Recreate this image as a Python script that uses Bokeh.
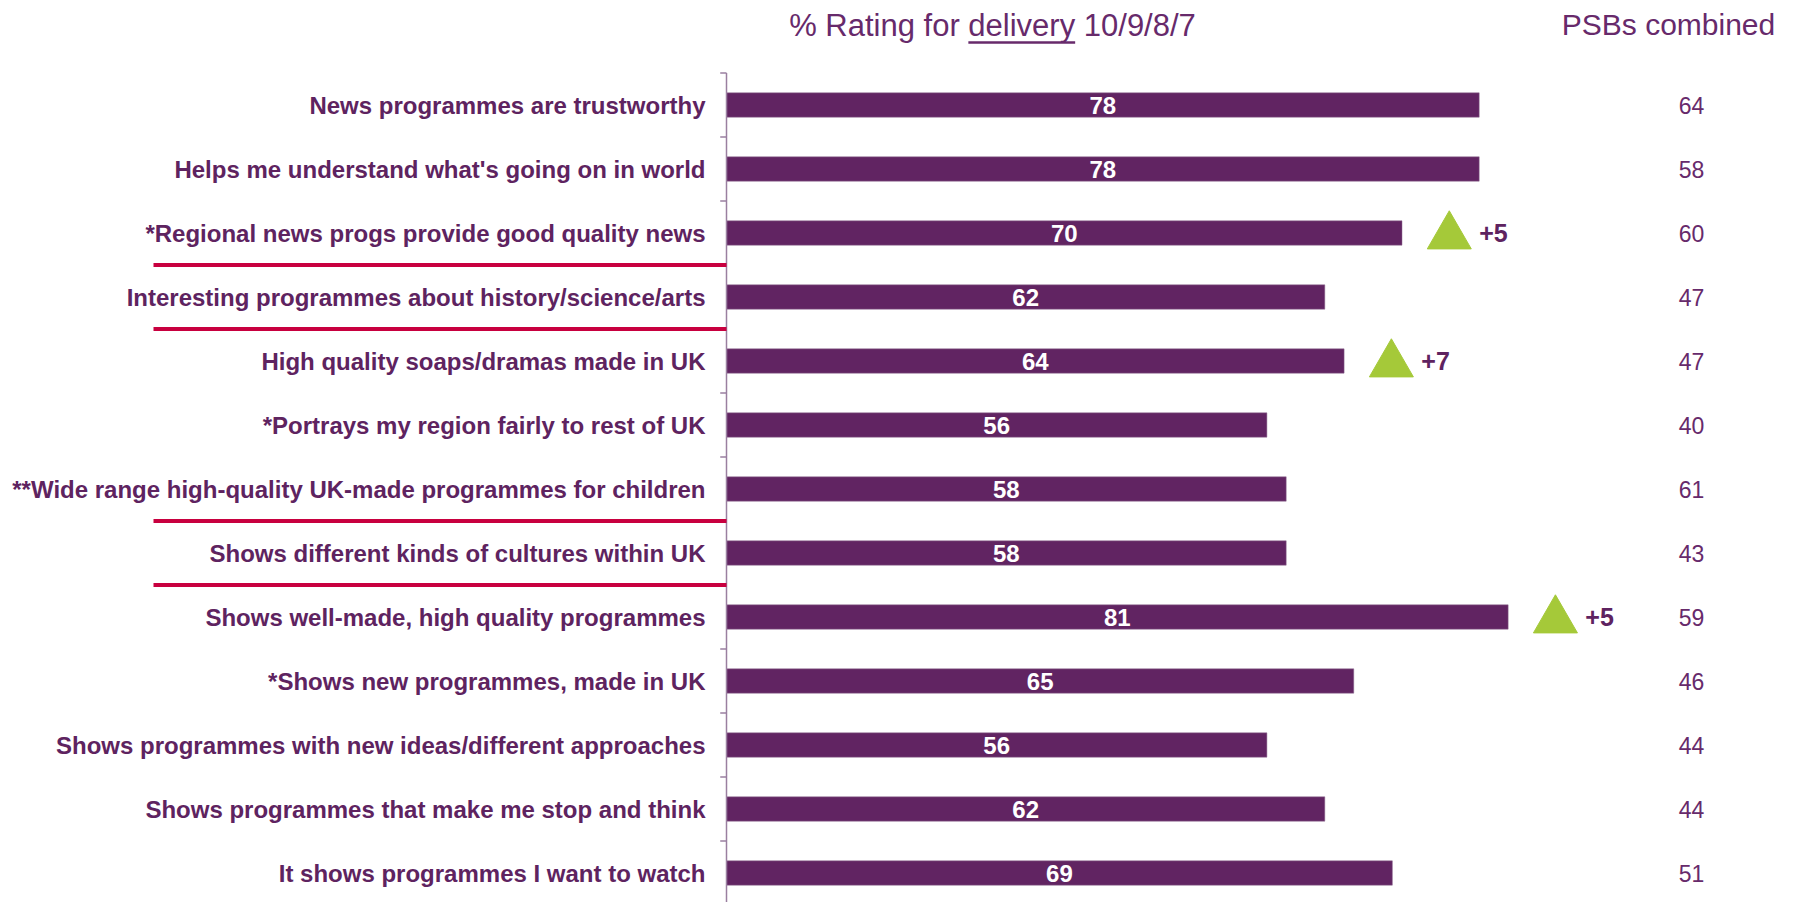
from bokeh.plotting import figure
from bokeh.models import Range1d, ColumnDataSource
from bokeh.core.properties import value
from bokeh.embed import file_html
from bokeh.resources import INLINE

# ---------------- data ----------------
categories = [
    "News programmes are trustworthy",
    "Helps me understand what's going on in world",
    "*Regional news progs provide good quality news",
    "Interesting programmes about history/science/arts",
    "High quality soaps/dramas made in UK",
    "*Portrays my region fairly to rest of UK",
    "**Wide range high-quality UK-made programmes for children",
    "Shows different kinds of cultures within UK",
    "Shows well-made, high quality programmes",
    "*Shows new programmes, made in UK",
    "Shows programmes with new ideas/different approaches",
    "Shows programmes that make me stop and think",
    "It shows programmes I want to watch",
]
delivery = [78, 78, 70, 62, 64, 56, 58, 58, 81, 65, 56, 62, 69]
psb_combined = [64, 58, 60, 47, 47, 40, 61, 43, 59, 46, 44, 44, 51]
change_rows = [2, 4, 8]
change_values = [5, 7, 5]
separators_after = [2, 3, 6, 7]
title_parts = ["% Rating for ", "delivery", " 10/9/8/7"]
right_header = "PSBs combined"

# ---------------- styling / geometry ----------------
W, H = 1806, 902
X0, SX = 726.0, 9.65      # pixel of value 0, pixels per unit
Y0, SY = 104.5, 64.0      # pixel of first row, pixels per row
PURPLE = "#612462"
TEXTP = "#5E2360"
TITLEP = "#672A6B"
GREEN = "#A5C939"
RED = "#C8003F"
AXIS = "#9A7FA0"
FONT = value("Liberation Sans")

def dx(px):
    return (px - X0) / SX

def dy(py):
    return (py - Y0) / SY

n = len(categories)
rows = list(range(n))

p = figure(width=W, height=H, output_backend="svg", toolbar_location=None,
           x_range=Range1d(dx(0), dx(W)), y_range=Range1d(dy(H), dy(0)),
           x_axis_location=None, y_axis_location=None,
           min_border=0, min_border_left=0, min_border_right=0,
           min_border_top=0, min_border_bottom=0)
p.outline_line_color = None
p.grid.visible = False
p.background_fill_color = "white"
p.border_fill_color = "white"

src = ColumnDataSource(dict(
    y=rows, cat=categories, val=delivery, half=[v / 2 for v in delivery],
    lab=[str(v) for v in delivery], psb=[str(v) for v in psb_combined],
    psbx=[100] * n, labx=[dx(705)] * n,
))

# bars
p.hbar(y="y", left=0, right="val", height=0.38, source=src,
       fill_color=PURPLE, line_color="#8C6A90", line_width=0.5)

# bar value labels
p.text(x="half", y="y", text="lab", source=src, text_color="white",
       text_font=FONT, text_font_style="bold", text_font_size="24px",
       text_align="center", text_baseline="middle")

# category labels
p.text(x="labx", y="y", text="cat", source=src, text_color=TEXTP,
       text_font=FONT, text_font_style="bold", text_font_size="24px",
       text_align="right", text_baseline="middle")

# PSBs combined values
p.text(x="psbx", y="y", text="psb", source=src, text_color=TITLEP,
       text_font=FONT, text_font_size="23px",
       text_align="center", text_baseline="middle")

# axis line and ticks
bounds = [i - 0.5 for i in range(n + 1)]
p.segment(x0=[0], y0=[-0.5], x1=[0], y1=[n + 0.5], line_color=AXIS, line_width=1.5)
tick_b = [b for b in bounds if (b - 0.5) not in separators_after]
p.segment(x0=[-0.65] * len(tick_b), y0=tick_b, x1=[0] * len(tick_b), y1=tick_b,
          line_color=AXIS, line_width=1.5)

# red separators
sep_y = [s + 0.5 for s in separators_after]
p.segment(x0=[dx(153)] * len(sep_y), y0=sep_y, x1=[0] * len(sep_y), y1=sep_y,
          line_color=RED, line_width=4)

# significant change markers
tri_x = [delivery[r] + 4.9 for r in change_rows]
tri_y = [r + 0.05 for r in change_rows]
p.scatter(x=tri_x, y=tri_y, marker="triangle", size=44,
          fill_color=GREEN, line_color=GREEN)
p.text(x=[delivery[r] + 8.0 for r in change_rows], y=change_rows,
       text=["+%d" % v for v in change_values], text_color=TEXTP,
       text_font=FONT, text_font_style="bold", text_font_size="25px",
       text_align="left", text_baseline="middle")

# titles
tsize = 31
full_title = "".join(title_parts)
p.text(x=[dx(992)], y=[dy(25)], text=[full_title], text_color=TITLEP,
       text_font=FONT, text_font_size="%dpx" % tsize,
       text_align="center", text_baseline="middle")
# underline under "delivery" (Arial/Liberation metrics)
em_prefix, em_word, em_total = 5.78, 3.445, 13.117
start_px = 992 - em_total * tsize / 2
u0 = start_px + em_prefix * tsize
u1 = u0 + em_word * tsize
p.segment(x0=[dx(u0)], y0=[dy(42)], x1=[dx(u1)], y1=[dy(42)],
          line_color=TITLEP, line_width=2.5)

p.text(x=[dx(1668)], y=[dy(24)], text=[right_header], text_color=TITLEP,
       text_font=FONT, text_font_size="30px",
       text_align="center", text_baseline="middle")

open("out.html", "w").write(file_html(p, INLINE))
